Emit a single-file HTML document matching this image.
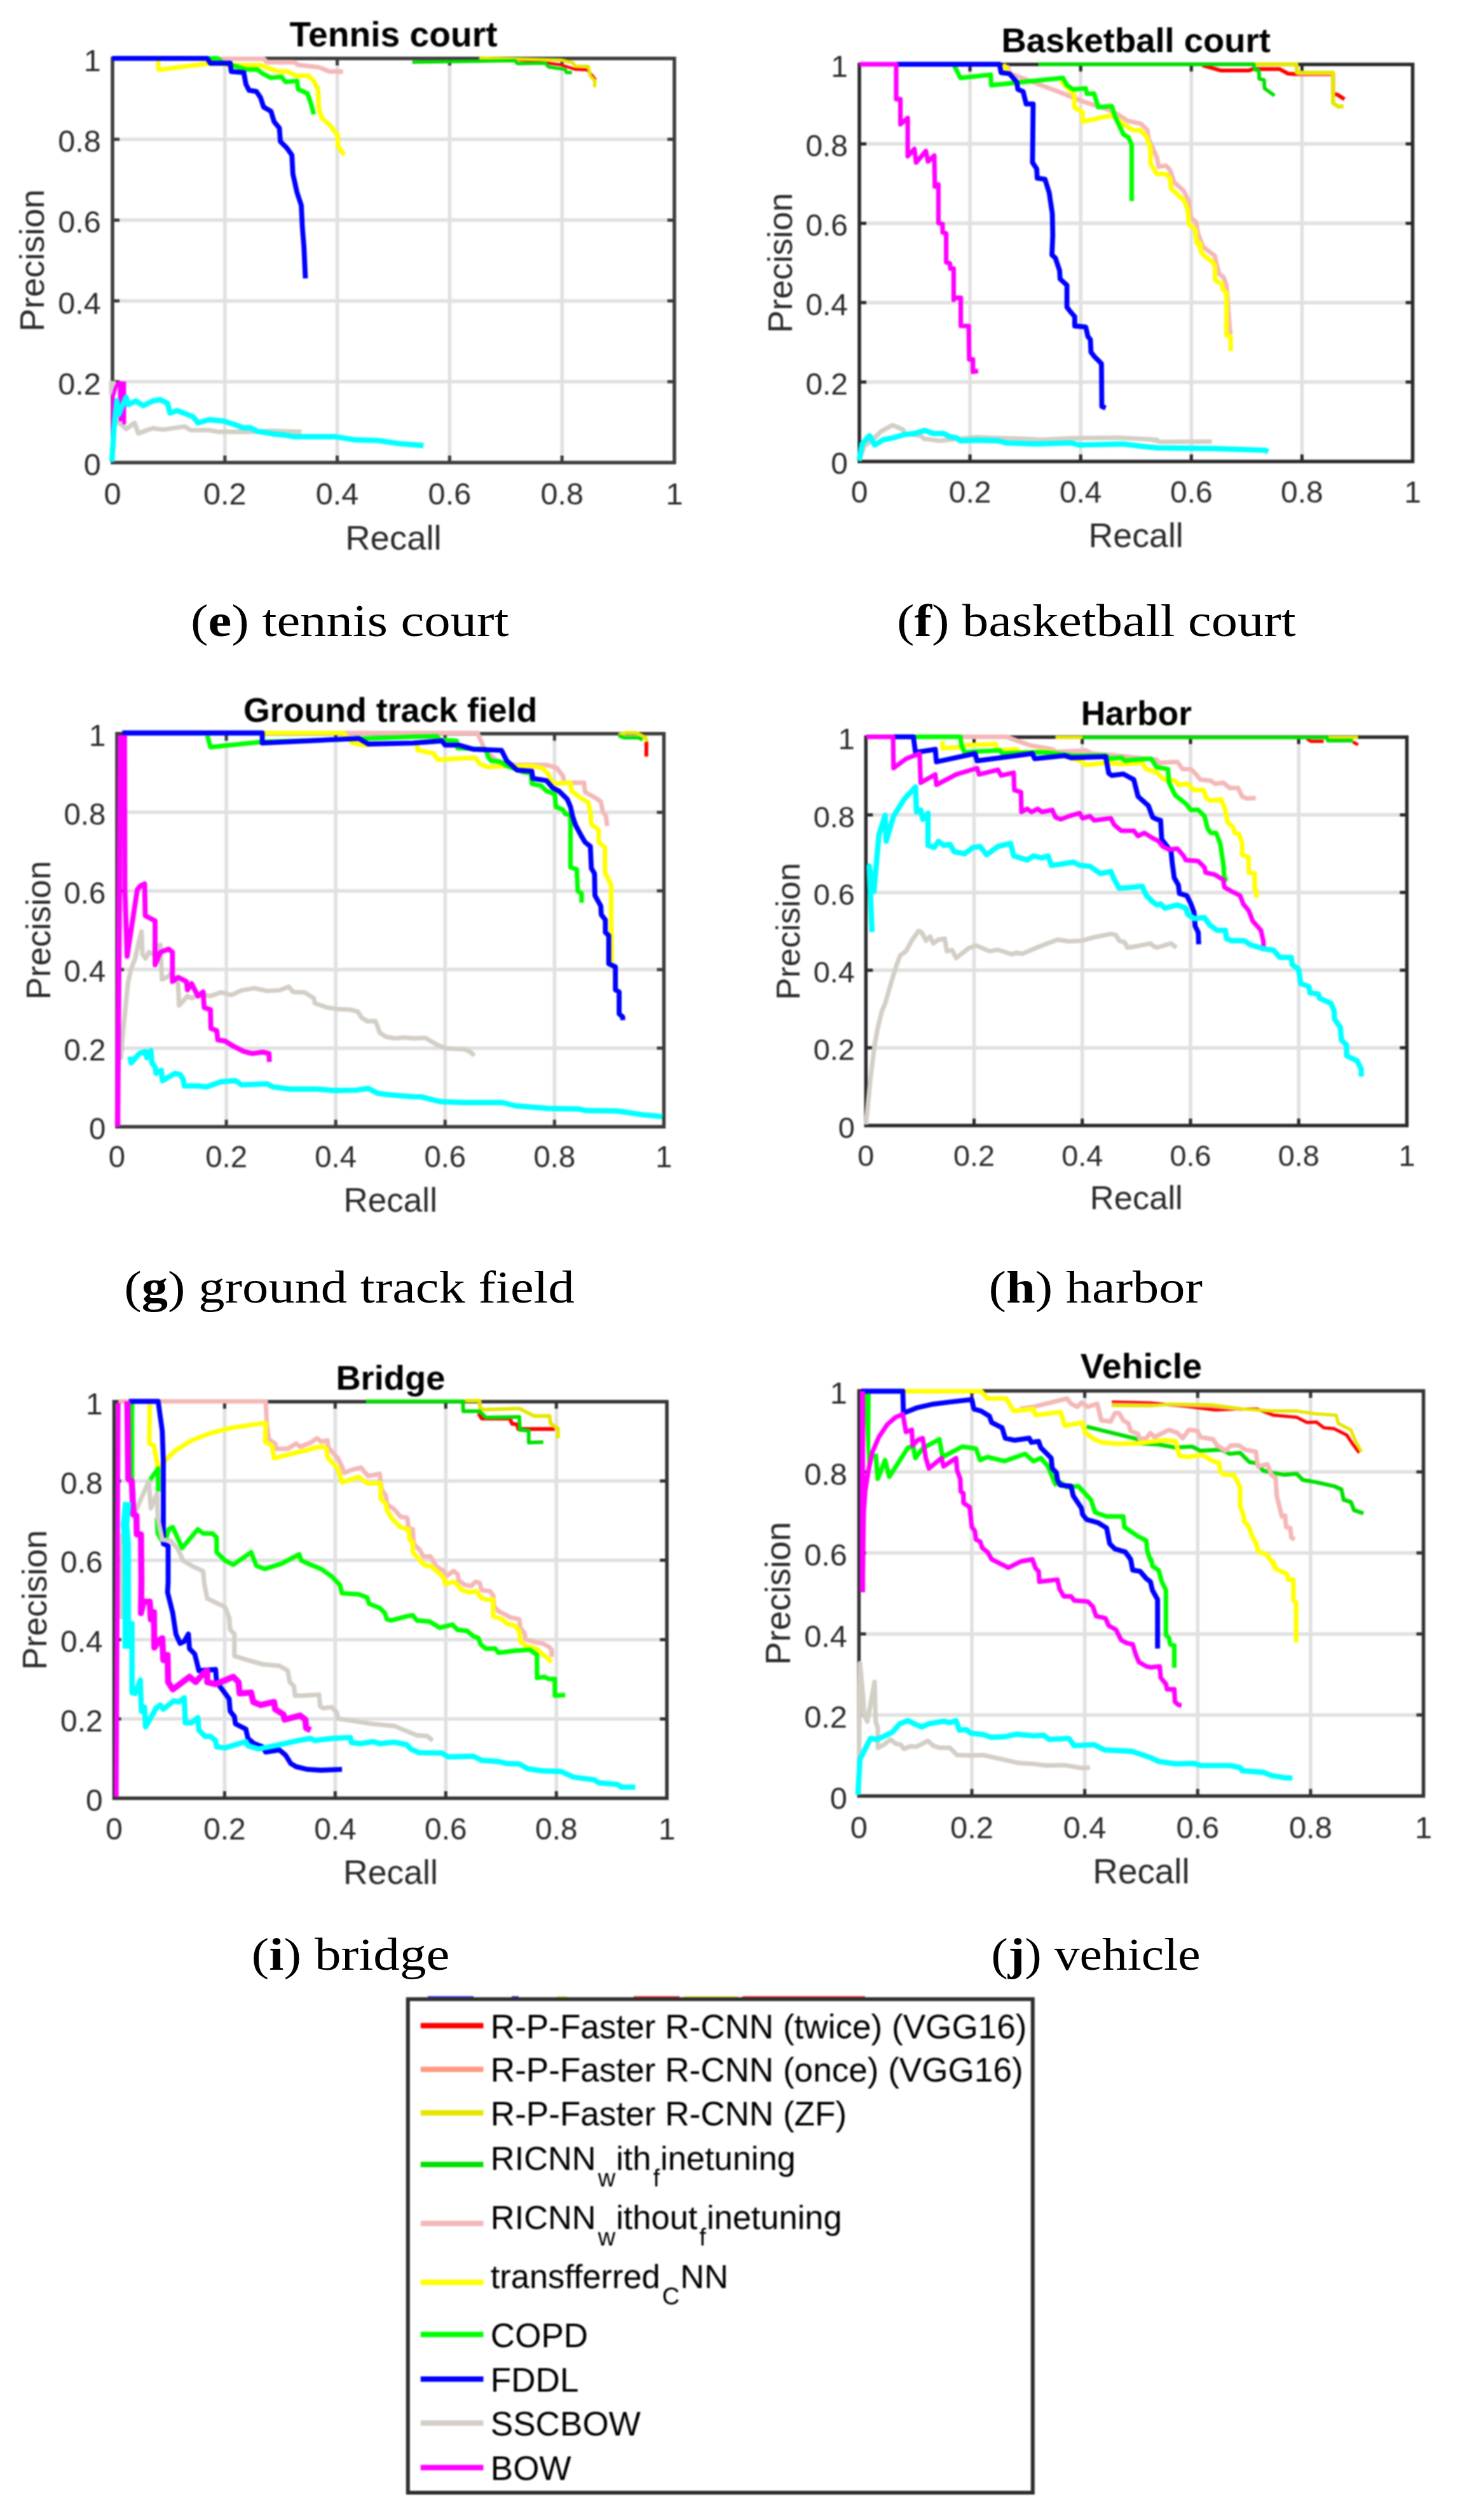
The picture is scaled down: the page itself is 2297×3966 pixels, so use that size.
<!DOCTYPE html>
<html lang="en">
<head>
<meta charset="utf-8">
<title>Precision-recall curves</title>
<style>
html,body{margin:0;padding:0;background:#fff;}
body{width:2297px;height:3966px;overflow:hidden;position:relative;}
svg{display:block;position:absolute;left:0;top:0;font-family:'Liberation Sans', Arial, sans-serif;}
#plots{filter:blur(0.9px);}
.sub{font-size:38px;}
</style>
</head>
<body>
<svg id="plots" width="2297" height="3966" viewBox="0 0 2297 3966">
<rect width="2297" height="3966" fill="#fff"/>
<g>
<path d="M353.8 92 V728 M177 600.8 H1061 M530.6 92 V728 M177 473.6 H1061 M707.4 92 V728 M177 346.4 H1061 M884.2 92 V728 M177 219.2 H1061" stroke="#e1e1e1" stroke-width="5.6" fill="none"/>
<path d="M353.8 728 v-11 M353.8 92 v11 M177 600.8 h11 M1061 600.8 h-11 M530.6 728 v-11 M530.6 92 v11 M177 473.6 h11 M1061 473.6 h-11 M707.4 728 v-11 M707.4 92 v11 M177 346.4 h11 M1061 346.4 h-11 M884.2 728 v-11 M884.2 92 v11 M177 219.2 h11 M1061 219.2 h-11" stroke="#3c3c3c" stroke-width="5" fill="none"/>
<rect x="177" y="92" width="884" height="636" fill="none" stroke="#3c3c3c" stroke-width="5.5"/>
<path d="M810.4 93.5 L863 99.5 L882.7 102.1 L905.8 109.3 L923.8 110 L932.1 119.2 L937 125.8" stroke="#ff0000" stroke-width="4.5" fill="none" stroke-linejoin="round" stroke-linecap="butt"/>
<path d="M753.9 91.2 L810.4 92.9 L882.7 94.5 L900.8 98.8 L905.8 104.4 L925.5 104.4 L928.8 119.2 L936 127.4 L935.3 137.3" stroke="#e6e600" stroke-width="5.2" fill="none" stroke-linejoin="round" stroke-linecap="butt"/>
<path d="M648.7 97.8 L810.4 95.5 L813.7 100.1 L858.1 99.5 L863 105.4 L889.3 109.3 L891 114.2 L899.8 114.2" stroke="#00e000" stroke-width="5.2" fill="none" stroke-linejoin="round" stroke-linecap="butt"/>
<path d="M344.1 92.5 L414.8 92.5 L419.7 97.8 L462.5 97.8 L469 102.1 L488.8 104.4 L501.9 106 L518.4 112.6 L539.7 112.6" stroke="#f5b8b8" stroke-width="7.2" fill="none" stroke-linejoin="round" stroke-linecap="butt"/>
<path d="M248.8 94.5 L249.4 109.3 L255.3 109.3 L326 100.1 L344.1 100.1 L367.1 102.7 L409.9 102.7 L423 107.7 L439.5 112.6 L452.6 112.6 L465.8 119.2 L485.5 119.2 L493.7 127.4 L500.3 142.2 L501.9 171.8 L506.8 186.6 L518.4 196.4 L531.5 212.9 L531.5 229.3 L541.4 244.1" stroke="#ffff00" stroke-width="7.2" fill="none" stroke-linejoin="round" stroke-linecap="butt"/>
<path d="M326 91.9 L342.5 91.9 L350.7 98.8 L365.5 102.7 L386.8 109.3 L404.9 109.3 L413.2 115.9 L426.3 122.5 L442.7 120.8 L449.3 129 L467.4 127.4 L469 140.5 L483.8 147.1 L488.8 161.9 L493.7 180" stroke="#00ff00" stroke-width="7.2" fill="none" stroke-linejoin="round" stroke-linecap="butt"/>
<path d="M176.4 91.9 L326 91.9 L331 99.5 L362.2 99.5 L363.8 112.6 L383.6 114.2 L386.8 132.3 L391.8 142.2 L403.3 143.8 L409.9 153.7 L414.8 168.5 L426.3 175.1 L431.2 191.5 L439.5 201.4 L441.1 222.7 L451 232.6 L459.2 244.1 L460.8 273.7 L467.4 303.3 L474 323 L475.6 355.9 L478.2 388.8 L480.5 438.1" stroke="#0000ff" stroke-width="7.8" fill="none" stroke-linejoin="round" stroke-linecap="butt"/>
<path d="M176.9 599.5 L176.9 621.4" stroke="#d3cfc6" stroke-width="10.8" fill="none" stroke-linejoin="round" stroke-linecap="butt"/>
<path d="M183.8 663.6 L192.6 669.3 L198.4 675.1 L211.8 665.5 L217.5 682 L240.5 673.9 L255.9 676.2 L290.4 671.2 L300 677 L328.8 677 L344.1 679.7 L390.1 679.7 L428.5 678.1 L474.5 679.7" stroke="#d3cfc6" stroke-width="7.2" fill="none" stroke-linejoin="round" stroke-linecap="butt"/>
<path d="M176.5 726.8 L178 623.3 L182.2 609.1 L186.8 601.4" stroke="#ff00ff" stroke-width="5.4" fill="none" stroke-linejoin="round" stroke-linecap="butt"/>
<path d="M185.3 599.5 L198.4 600.7 L198.4 667.4 L193 668.2 L192.2 663.6 L186.5 662.8Z" fill="#ff00ff" stroke="none"/>
<path d="M176.1 726.8 L179.2 675.1 L183.8 631 L186.8 652.1 L198.4 625.2 L202.2 636.7 L213.7 631 L225.2 638.6 L240.5 631 L252.1 629 L263.6 634.8 L267.4 650.1 L278.9 646.3 L294.2 652.1 L303.8 655.9 L311.5 665.5 L328.8 660.5 L351.8 662.8 L367.1 667.4 L382.5 673.2 L394 673.2 L405.5 678.9 L428.5 682.7 L447.7 684.7 L463 687.3 L528.2 687.3 L558.9 692.3 L593.4 693.1 L627.9 698.1 L666.3 701.2" stroke="#00ffff" stroke-width="8.4" fill="none" stroke-linejoin="round" stroke-linecap="butt"/>
<text x="177" y="793.7" font-size="48.6" text-anchor="middle" fill="#2c2c2c">0</text>
<text x="158.7" y="748" font-size="48.6" text-anchor="end" fill="#2c2c2c">0</text>
<text x="353.8" y="793.7" font-size="48.6" text-anchor="middle" fill="#2c2c2c">0.2</text>
<text x="158.7" y="620.8" font-size="48.6" text-anchor="end" fill="#2c2c2c">0.2</text>
<text x="530.6" y="793.7" font-size="48.6" text-anchor="middle" fill="#2c2c2c">0.4</text>
<text x="158.7" y="493.6" font-size="48.6" text-anchor="end" fill="#2c2c2c">0.4</text>
<text x="707.4" y="793.7" font-size="48.6" text-anchor="middle" fill="#2c2c2c">0.6</text>
<text x="158.7" y="366.4" font-size="48.6" text-anchor="end" fill="#2c2c2c">0.6</text>
<text x="884.2" y="793.7" font-size="48.6" text-anchor="middle" fill="#2c2c2c">0.8</text>
<text x="158.7" y="239.2" font-size="48.6" text-anchor="end" fill="#2c2c2c">0.8</text>
<text x="1061" y="793.7" font-size="48.6" text-anchor="middle" fill="#2c2c2c">1</text>
<text x="158.7" y="112" font-size="48.6" text-anchor="end" fill="#2c2c2c">1</text>
<text x="619" y="864.8" font-size="54.5" text-anchor="middle" fill="#2c2c2c">Recall</text>
<text transform="translate(69 410) rotate(-90)" font-size="54.5" text-anchor="middle" fill="#2c2c2c">Precision</text>
<text x="619" y="72.5" font-size="55.2" font-weight="bold" text-anchor="middle" fill="#000">Tennis court</text>
</g>
<g>
<path d="M1526.1 101.4 V726.3 M1352 601.3 H2222.5 M1700.2 101.4 V726.3 M1352 476.3 H2222.5 M1874.3 101.4 V726.3 M1352 351.4 H2222.5 M2048.4 101.4 V726.3 M1352 226.4 H2222.5" stroke="#e1e1e1" stroke-width="5.6" fill="none"/>
<path d="M1526.1 726.3 v-11 M1526.1 101.4 v11 M1352 601.3 h11 M2222.5 601.3 h-11 M1700.2 726.3 v-11 M1700.2 101.4 v11 M1352 476.3 h11 M2222.5 476.3 h-11 M1874.3 726.3 v-11 M1874.3 101.4 v11 M1352 351.4 h11 M2222.5 351.4 h-11 M2048.4 726.3 v-11 M2048.4 101.4 v11 M1352 226.4 h11 M2222.5 226.4 h-11" stroke="#2a2a2a" stroke-width="5" fill="none"/>
<rect x="1352" y="101.4" width="870.5" height="624.9" fill="none" stroke="#2a2a2a" stroke-width="5.5"/>
<path d="M1891.8 102.9 L1921.4 111.1 L1964.1 111.1 L1970.7 108.8 L2013.4 108.8 L2026.6 116 L2039.7 116.7 L2097.3 116.7 L2097.3 147.3 L2103.8 148.9 L2115.3 156.1" stroke="#ff0000" stroke-width="6" fill="none" stroke-linejoin="round" stroke-linecap="butt"/>
<path d="M2041.4 116.7 L2095.6 116.7" stroke="#ff9a80" stroke-width="4" fill="none" stroke-linejoin="round" stroke-linecap="butt"/>
<path d="M1974 101.2 L2039.7 101.2 L2040.4 114.4 L2097.3 114.4 L2097.3 162.1 L2105.5 168 L2113.7 167" stroke="#e6e600" stroke-width="6.3" fill="none" stroke-linejoin="round" stroke-linecap="butt"/>
<path d="M1633.6 101.2 L1820 101.2 L1784.9 101.2 L1972.3 101.2 L1974 109.5 L1980.5 111.1 L1981.2 124.2 L1988.8 125.9 L1989.4 139 L2005.2 150.5" stroke="#00e000" stroke-width="5.8" fill="none" stroke-linejoin="round" stroke-linecap="butt"/>
<path d="M1583.3 102.9 L1589.9 116 L1668.8 145.6 L1701.6 158.8 L1751 175.2 L1774 190 L1795.3 194.9 L1805.2 204.8 L1806.8 217.9 L1820 247.5 L1822.7 262.3 L1834.2 260.7 L1840.8 267.3 L1847.4 287 L1862.2 300.1 L1870.4 316.6 L1873.7 342.9 L1881.9 349.5 L1885.2 369.2 L1893.4 389.9 L1890.1 386.4 L1911.5 402.9 L1913.2 412.7 L1918.1 430.8 L1924.7 435.8 L1929.6 448.9 L1934.5 514.7 L1936.2 526.2" stroke="#f5b8b8" stroke-width="7.2" fill="none" stroke-linejoin="round" stroke-linecap="butt"/>
<path d="M1578.4 101.2 L1588.2 116" stroke="#ffff00" stroke-width="7.2" fill="none" stroke-linejoin="round" stroke-linecap="butt"/>
<path d="M1668.8 127.5 L1672.1 130.8 L1690.1 148.9 L1690.1 168.6 L1703.3 176.8 L1703.3 191.6 L1747.7 181.8 L1754.2 185.1 L1769 196.6 L1782.2 204.8 L1793.7 204.8 L1803.6 214.7 L1810.1 234.4 L1810.1 257.4 L1820 273.8 L1834.2 273.8 L1840.8 280.4 L1842.5 296.8 L1862.2 314.9 L1868.8 329.7 L1870.4 352.7 L1880.3 361 L1881.9 375.8 L1888.5 389.9 L1882.6 381.5 L1888.5 383.2 L1889.2 396.3 L1896.7 404.5 L1906.6 411.1 L1911.5 419.3 L1911.5 440.7 L1923 447.3 L1923.7 455.5 L1929.6 460.4 L1929.6 527.8 L1936.2 529.5 L1936.2 552.5" stroke="#ffff00" stroke-width="7.2" fill="none" stroke-linejoin="round" stroke-linecap="butt"/>
<path d="M1501.1 102.9 L1511 122.6 L1558.6 117.7 L1559.6 134.1 L1672.1 122.6 L1678.6 134.1 L1688.5 140.7 L1708.2 139 L1709.9 147.3 L1721.4 147.3 L1727.9 168.6 L1749.3 167 L1754.2 183.4 L1767.4 211.4 L1775.6 216.3 L1780.5 227.8 L1780.5 316.6" stroke="#00ff00" stroke-width="7.2" fill="none" stroke-linejoin="round" stroke-linecap="butt"/>
<path d="M1410 101.2 L1572.4 101.2 L1575.1 114.4 L1588.2 116 L1599.7 129.2 L1601.4 140.7 L1609.6 144 L1614.5 163.7 L1625.4 163.7 L1624.4 255.8 L1631 265.6 L1631.9 280.4 L1644.1 282.1 L1650.7 303.4 L1655.6 336.3 L1656.3 370.2 L1655 401.2 L1660.5 406.2 L1667.1 425.9 L1667.8 439 L1678.6 448.9 L1678.6 483.4 L1683.6 490 L1690.8 498.2 L1690.8 513 L1708.2 514.7 L1711.5 529.5 L1715.5 534.4 L1716.4 554.1 L1721.4 560.7 L1732.9 572.2 L1733.5 639.6 L1739.5 642.2" stroke="#0000ff" stroke-width="7.8" fill="none" stroke-linejoin="round" stroke-linecap="butt"/>
<path d="M1351.5 725.1 L1359.7 702.1 L1376.2 688.9 L1386 679 L1404.1 669.2 L1420.5 675.8 L1423.8 682.3 L1448.5 685.6 L1453.4 690.5 L1478.1 693.8 L1507.7 690.5 L1537.3 688.2 L1576.7 689.6 L1612.9 690.5 L1635.9 692.2 L1688.5 689.6 L1760.8 688.9 L1820 692.2 L1812.9 692.2 L1826 695.5 L1906.6 694.8" stroke="#d3cfc6" stroke-width="7.2" fill="none" stroke-linejoin="round" stroke-linecap="butt"/>
<path d="M1352.5 101.2 L1410 101.2 L1410 156.1 L1416.6 156.1 L1416.6 195.6 L1428.1 185.7 L1428.1 245.9 L1438.6 234.4 L1441.3 255.8 L1456.7 237.7 L1460 254.1 L1469.9 244.9 L1470.8 293.6 L1476.4 290.3 L1476.4 351.1 L1483 352.7 L1483 365.9 L1488.6 367.5 L1488.6 370 L1488.6 412.7 L1494.5 414.4 L1495.2 422.6 L1500.4 422.6 L1500.4 471.9 L1502.7 468.6 L1511.6 468.6 L1511.6 513 L1524.1 513 L1524.8 565.6 L1530.7 565.6 L1530.7 585.3 L1538.9 583.7" stroke="#ff00ff" stroke-width="7.2" fill="none" stroke-linejoin="round" stroke-linecap="butt"/>
<path d="M1351.5 725.1 L1356.4 698.8 L1367.9 685.6 L1376.2 700.4 L1389.3 692.2 L1405.8 688.9 L1422.2 684 L1438.6 682.3 L1455.1 677.4 L1468.2 682.3 L1484.7 682.3 L1494.5 687.3 L1504.4 688.9 L1511 693.8 L1537.3 692.8 L1570.1 693.8 L1583.3 697.1 L1629.3 698.8 L1685.2 697.1 L1698.4 700.4 L1767.4 698.8 L1793.7 702.1 L1820 704.7 L1911.5 706 L1990.4 708.6 L1995.3 710.9" stroke="#00ffff" stroke-width="8.4" fill="none" stroke-linejoin="round" stroke-linecap="butt"/>
<text x="1352" y="791" font-size="47.9" text-anchor="middle" fill="#2c2c2c">0</text>
<text x="1334" y="746" font-size="47.9" text-anchor="end" fill="#2c2c2c">0</text>
<text x="1526.1" y="791" font-size="47.9" text-anchor="middle" fill="#2c2c2c">0.2</text>
<text x="1334" y="621" font-size="47.9" text-anchor="end" fill="#2c2c2c">0.2</text>
<text x="1700.2" y="791" font-size="47.9" text-anchor="middle" fill="#2c2c2c">0.4</text>
<text x="1334" y="496" font-size="47.9" text-anchor="end" fill="#2c2c2c">0.4</text>
<text x="1874.3" y="791" font-size="47.9" text-anchor="middle" fill="#2c2c2c">0.6</text>
<text x="1334" y="371.1" font-size="47.9" text-anchor="end" fill="#2c2c2c">0.6</text>
<text x="2048.4" y="791" font-size="47.9" text-anchor="middle" fill="#2c2c2c">0.8</text>
<text x="1334" y="246.1" font-size="47.9" text-anchor="end" fill="#2c2c2c">0.8</text>
<text x="2222.5" y="791" font-size="47.9" text-anchor="middle" fill="#2c2c2c">1</text>
<text x="1334" y="121.1" font-size="47.9" text-anchor="end" fill="#2c2c2c">1</text>
<text x="1787.2" y="861" font-size="53.7" text-anchor="middle" fill="#2c2c2c">Recall</text>
<text transform="translate(1245.6 413.8) rotate(-90)" font-size="53.7" text-anchor="middle" fill="#2c2c2c">Precision</text>
<text x="1787.2" y="82.2" font-size="54.4" font-weight="bold" text-anchor="middle" fill="#000">Basketball court</text>
</g>
<g>
<path d="M356.1 1154.7 V1773.3 M184 1649.6 H1044.5 M528.2 1154.7 V1773.3 M184 1525.9 H1044.5 M700.3 1154.7 V1773.3 M184 1402.1 H1044.5 M872.4 1154.7 V1773.3 M184 1278.4 H1044.5" stroke="#e1e1e1" stroke-width="5.6" fill="none"/>
<path d="M356.1 1773.3 v-11 M356.1 1154.7 v11 M184 1649.6 h11 M1044.5 1649.6 h-11 M528.2 1773.3 v-11 M528.2 1154.7 v11 M184 1525.9 h11 M1044.5 1525.9 h-11 M700.3 1773.3 v-11 M700.3 1154.7 v11 M184 1402.1 h11 M1044.5 1402.1 h-11 M872.4 1773.3 v-11 M872.4 1154.7 v11 M184 1278.4 h11 M1044.5 1278.4 h-11" stroke="#3c3c3c" stroke-width="5" fill="none"/>
<rect x="184" y="1154.7" width="860.5" height="618.6" fill="none" stroke="#3c3c3c" stroke-width="5.5"/>
<path d="M1016.9 1166 L1016.9 1190.7" stroke="#ff0000" stroke-width="6" fill="none" stroke-linejoin="round" stroke-linecap="butt"/>
<path d="M973.2 1156.2 L984.7 1153.5 L1001.1 1153.5 L1015.9 1161.1 L1016.9 1167.7" stroke="#e6e600" stroke-width="5.8" fill="none" stroke-linejoin="round" stroke-linecap="butt"/>
<path d="M973.2 1157.8 L981.4 1161.1 L1004.4 1161.1 L1011 1164.4" stroke="#00e000" stroke-width="5.2" fill="none" stroke-linejoin="round" stroke-linecap="butt"/>
<path d="M541.5 1153.5 L650 1153.5 L751.2 1153.5 L761.1 1175.9 L767.7 1185.8 L784.1 1198.9 L810.4 1203.8 L859.7 1203.8 L876.2 1208.8 L886 1221.9 L887.7 1231.8 L918.9 1231.8 L920.5 1246.6 L935.3 1254.8 L945.2 1261.4 L948.5 1277.8 L953.4 1284.4 L955.1 1300.2" stroke="#f5b8b8" stroke-width="7.2" fill="none" stroke-linejoin="round" stroke-linecap="butt"/>
<path d="M414.9 1153.5 L539.9 1153.5 L554.7 1169.3 L571.1 1172.6 L581 1172.6" stroke="#ffff00" stroke-width="7.2" fill="none" stroke-linejoin="round" stroke-linecap="butt"/>
<path d="M655.9 1172.6 L657.5 1180.8 L682.2 1185.8 L688.8 1195.6 L747.9 1192.3 L754.5 1202.2 L767.7 1207.1 L797.3 1205.5 L836.7 1205.5 L853.2 1208.8 L863 1218.6 L869.6 1233.4 L897.5 1231.8 L899.2 1244.9 L912.3 1254.8 L925.5 1263 L928.8 1277.8 L930.4 1297.5 L941.9 1305.8 L941.9 1325.5 L951.8 1333.7 L951.8 1373.2 L961.6 1392.9 L961.6 1439.9 L962.3 1515.1" stroke="#ffff00" stroke-width="7.2" fill="none" stroke-linejoin="round" stroke-linecap="butt"/>
<path d="M326.2 1157.8 L331.1 1175.9 L411.6 1167.7 L569.5 1162.7 L650 1159.5 L687.1 1158.8 L692.1 1164.4 L718.4 1166 L720 1177.5 L764.4 1179.2 L767.7 1190.7 L772.6 1197.3 L787.4 1198.9 L797.3 1205.5 L823.6 1215.3 L835.1 1217 L836.7 1233.4 L851.5 1236.7 L859.7 1244.9 L872.9 1249.9 L874.5 1269.6 L886 1274.5 L889.3 1281.1 L897.5 1282.7 L897.5 1364.9 L907.4 1368.2 L909 1402.7 L915 1406 L915 1420.8" stroke="#00ff00" stroke-width="7.2" fill="none" stroke-linejoin="round" stroke-linecap="butt"/>
<path d="M192.4 1153.5 L412.6 1153.5 L412.6 1169.3 L564.5 1162.1 L579.3 1171 L650 1169.3 L695.3 1166 L700.3 1172.6 L721.6 1172.6 L744.7 1179.2 L789 1180.8 L797.3 1197.3 L813.7 1212.1 L836.7 1213.7 L838.4 1225.2 L859.7 1228.5 L869.6 1240 L879.5 1244.9 L892.6 1258.1 L897.5 1269.6 L900.8 1284.4 L905.8 1299.2 L915.6 1317.3 L920.5 1325.5 L928.8 1332.1 L930.4 1366.6 L935.3 1374.8 L936 1409.3 L945.2 1425.8 L945.9 1439.5 L952.4 1447.7 L952.4 1467.4 L957.7 1472.3 L957.7 1516.7 L968.2 1521.6 L968.2 1557.8 L974.1 1561.1 L974.1 1595.6 L979.7 1600.5 L979.7 1605.5" stroke="#0000ff" stroke-width="7.8" fill="none" stroke-linejoin="round" stroke-linecap="butt"/>
<path d="M189.7 1667.9 L193 1630.1 L201.2 1547.9 L206.2 1524.9 L212.7 1508.5 L217.7 1485.5 L222.6 1465.8 L224.2 1501.9 L229.2 1508.5 L234.1 1498.6 L240.7 1501.9 L244 1492.1 L252.2 1487.1 L254.8 1541.4 L265.3 1536.4 L268.6 1531.5 L280.1 1547.9 L281.8 1582.5 L294.9 1567.7 L301.5 1571 L314.7 1564.4 L331.1 1567.7 L347.5 1561.8 L364 1566 L380.4 1558.5 L400.1 1555.2 L419.9 1559.5 L439.6 1558.5 L454.4 1552.9 L461 1561.1 L479 1561.8 L493.8 1571 L495.5 1579.2 L515.2 1585.8 L531.6 1588.1 L551.4 1589 L562.9 1592.3 L569.5 1602.2 L577.7 1607.1 L590.8 1607.1 L597.4 1625.2 L607.3 1631.8 L620.4 1634.1 L636.8 1632.8 L650 1634.1 L652.6 1634.1 L669 1633.4 L688.8 1644.9 L701.9 1649.9 L731.5 1651.5 L741.4 1656.4 L746.3 1661.4" stroke="#d3cfc6" stroke-width="7.2" fill="none" stroke-linejoin="round" stroke-linecap="butt"/>
<path d="M185 1773 L189.5 1157" stroke="#ff00ff" stroke-width="8.4" fill="none" stroke-linejoin="round" stroke-linecap="butt"/>
<path d="M196 1157 L196.5 1400 L200 1505 L216 1400 L221 1394 L227.5 1391 L228.5 1441.1 L244 1449.3 L244 1518.4 L252.2 1498.6 L265.3 1493.7 L271.3 1498.6 L271.3 1544.7 L280.1 1538.1 L293.3 1544.7 L294.9 1557.8 L301.5 1547.9 L311.4 1567.7 L319.6 1561.1 L321.2 1585.8 L331.1 1589 L331.8 1618.6 L341 1621.9 L342.6 1636.7 L354.1 1638.4 L367.3 1646.6 L383.7 1654.8 L396.8 1658.1 L413.3 1655.8 L423.2 1658.1 L423.8 1671.2" stroke="#ff00ff" stroke-width="7.8" fill="none" stroke-linejoin="round" stroke-linecap="butt"/>
<path d="M204.5 1663 L206.2 1672.9 L219.3 1658.1 L229.2 1654.8 L230.8 1664.7 L237.4 1653.2 L239 1672.9 L244 1679.5 L245.6 1689.3 L253.8 1684.4 L255.5 1700.8 L275.2 1689.3 L283.4 1691 L288.4 1699.2 L290 1709 L311.4 1709 L324.5 1710.7 L347.5 1702.5 L370.5 1700.8 L380.4 1707.4 L419.9 1705.8 L429.7 1710.7 L456 1714 L498.8 1714 L525.1 1716.3 L561.2 1715.6 L579.3 1713 L594.1 1720.5 L610.5 1722.8 L650 1726.1 L662.5 1726.1 L692.1 1733.7 L731.5 1735.3 L790.7 1735.3 L810.4 1740.3 L863 1744.5 L909 1745.2 L922.2 1747.8 L971.5 1748.5 L1011 1754.4 L1042.2 1757.4" stroke="#00ffff" stroke-width="8.4" fill="none" stroke-linejoin="round" stroke-linecap="butt"/>
<text x="184" y="1837.3" font-size="47.3" text-anchor="middle" fill="#2c2c2c">0</text>
<text x="166.2" y="1792.8" font-size="47.3" text-anchor="end" fill="#2c2c2c">0</text>
<text x="356.1" y="1837.3" font-size="47.3" text-anchor="middle" fill="#2c2c2c">0.2</text>
<text x="166.2" y="1669" font-size="47.3" text-anchor="end" fill="#2c2c2c">0.2</text>
<text x="528.2" y="1837.3" font-size="47.3" text-anchor="middle" fill="#2c2c2c">0.4</text>
<text x="166.2" y="1545.3" font-size="47.3" text-anchor="end" fill="#2c2c2c">0.4</text>
<text x="700.3" y="1837.3" font-size="47.3" text-anchor="middle" fill="#2c2c2c">0.6</text>
<text x="166.2" y="1421.6" font-size="47.3" text-anchor="end" fill="#2c2c2c">0.6</text>
<text x="872.4" y="1837.3" font-size="47.3" text-anchor="middle" fill="#2c2c2c">0.8</text>
<text x="166.2" y="1297.9" font-size="47.3" text-anchor="end" fill="#2c2c2c">0.8</text>
<text x="1044.5" y="1837.3" font-size="47.3" text-anchor="middle" fill="#2c2c2c">1</text>
<text x="166.2" y="1174.2" font-size="47.3" text-anchor="end" fill="#2c2c2c">1</text>
<text x="614.2" y="1906.5" font-size="53.1" text-anchor="middle" fill="#2c2c2c">Recall</text>
<text transform="translate(78.9 1464) rotate(-90)" font-size="53.1" text-anchor="middle" fill="#2c2c2c">Precision</text>
<text x="614.2" y="1135.7" font-size="53.7" font-weight="bold" text-anchor="middle" fill="#000">Ground track field</text>
</g>
<g>
<path d="M1532.5 1160.1 V1771.4 M1362.3 1649.1 H2213.4 M1702.7 1160.1 V1771.4 M1362.3 1526.9 H2213.4 M1873 1160.1 V1771.4 M1362.3 1404.6 H2213.4 M2043.2 1160.1 V1771.4 M1362.3 1282.4 H2213.4" stroke="#e1e1e1" stroke-width="5.6" fill="none"/>
<path d="M1532.5 1771.4 v-11 M1532.5 1160.1 v11 M1362.3 1649.1 h11 M2213.4 1649.1 h-11 M1702.7 1771.4 v-11 M1702.7 1160.1 v11 M1362.3 1526.9 h11 M2213.4 1526.9 h-11 M1873 1771.4 v-11 M1873 1160.1 v11 M1362.3 1404.6 h11 M2213.4 1404.6 h-11 M2043.2 1771.4 v-11 M2043.2 1160.1 v11 M1362.3 1282.4 h11 M2213.4 1282.4 h-11" stroke="#2a2a2a" stroke-width="5" fill="none"/>
<rect x="1362.3" y="1160.1" width="851.1" height="611.3" fill="none" stroke="#2a2a2a" stroke-width="5.5"/>
<path d="M2056.2 1162.9 L2062.7 1166.8 L2082.5 1166.8" stroke="#ff0000" stroke-width="5" fill="none" stroke-linejoin="round" stroke-linecap="butt"/>
<path d="M2128.5 1167.8 L2136.7 1172.1" stroke="#ff0000" stroke-width="5" fill="none" stroke-linejoin="round" stroke-linecap="butt"/>
<path d="M1660.5 1160.6 L1703.3 1160.6" stroke="#e6e600" stroke-width="5.2" fill="none" stroke-linejoin="round" stroke-linecap="butt"/>
<path d="M2087.4 1160.6 L2136.7 1160.6" stroke="#e6e600" stroke-width="5.2" fill="none" stroke-linejoin="round" stroke-linecap="butt"/>
<path d="M1703.3 1160.6 L1820 1160.6 L2087.4 1160.6 L2089 1165.5 L2128.5 1165.5" stroke="#00e000" stroke-width="5.8" fill="none" stroke-linejoin="round" stroke-linecap="butt"/>
<path d="M1514.2 1159.6 L1583.3 1159.6 L1619.5 1172.7 L1655.6 1179.3 L1662.2 1183.3 L1708.2 1181 L1718.1 1185.9 L1739.5 1187.5 L1820 1195.8 L1822.7 1200.7 L1852.3 1199 L1860.5 1210.5 L1873.7 1210.5 L1881.9 1218.8 L1888.5 1227 L1904.9 1228.6 L1911.5 1233.6 L1924.7 1231.9 L1934.5 1240.1 L1947.7 1240.1 L1954.2 1253.3 L1960.8 1256.6 L1975.6 1255.9" stroke="#f5b8b8" stroke-width="7.2" fill="none" stroke-linejoin="round" stroke-linecap="butt"/>
<path d="M1483 1166.2 L1483 1177.7 L1511 1176 L1520.8 1172.7 L1566.8 1171.1 L1568.5 1181 L1599.7 1179.3 L1603 1184.2 L1644.1 1182.6 L1655.6 1184.2 L1700 1197.4 L1708.2 1204 L1737.8 1200.7 L1767.4 1202.3 L1797 1200.7 L1803.6 1210.5 L1820 1215.5 L1829.3 1225.3 L1839.2 1228.6 L1849 1228.6 L1854 1235.2 L1868.8 1233.6 L1878.6 1243.4 L1893.4 1243.4 L1898.4 1256.6 L1904.9 1259.9 L1921.4 1258.2 L1927.9 1274.7 L1931.2 1294.4 L1939.5 1301 L1942.7 1310.8 L1949.3 1312.5 L1954.2 1327.3 L1954.2 1345.3 L1964.1 1348.6 L1964.8 1373.3 L1974 1374.9 L1974 1399.6 L1976.6 1401.2 L1976.6 1412.7" stroke="#ffff00" stroke-width="7.2" fill="none" stroke-linejoin="round" stroke-linecap="butt"/>
<path d="M1437 1159.6 L1511 1159.6 L1512.6 1172.7 L1517.5 1184.2 L1537.3 1182.6 L1573.4 1181 L1576.7 1185.9 L1626 1184.2 L1645.8 1184.2 L1675.3 1187.5 L1688.5 1189.2 L1739.5 1189.2 L1746 1194.1 L1764.1 1192.5 L1770.7 1197.4 L1782.2 1195.8 L1810.1 1194.1 L1811.2 1194.1 L1819.5 1207.3 L1837.5 1210.5 L1839.2 1231.9 L1849 1251.6 L1865.5 1264.8 L1873.7 1274.7 L1885.2 1274.7 L1895.1 1284.5 L1900 1304.2 L1904.9 1310.8 L1913.2 1310.8 L1919.7 1327.3 L1924.7 1360.1 L1926.3 1383.2 L1931.2 1384.8" stroke="#00ff00" stroke-width="7.2" fill="none" stroke-linejoin="round" stroke-linecap="butt"/>
<path d="M1405.1 1159.6 L1437 1159.6 L1440.3 1184.2 L1471.5 1179.3 L1473.2 1199 L1534 1185.9 L1537.3 1197.4 L1624.4 1185.9 L1627.7 1194.1 L1675.3 1189.2 L1685.2 1192.5 L1739.5 1190.8 L1744.4 1217.1 L1749.3 1220.4 L1767.4 1218.1 L1783.8 1227 L1790.4 1253.3 L1806.8 1268.1 L1813.4 1286.2 L1820 1289.5 L1826 1291.1 L1827.7 1320.7 L1832.6 1327.3 L1842.5 1340.4 L1844.1 1356.8 L1847.4 1381.5 L1854 1393 L1855.6 1406.2 L1867.1 1409.5 L1873.7 1422.6 L1878.6 1435.8 L1880.3 1457.5 L1885.2 1467.4 L1885.9 1486.1" stroke="#0000ff" stroke-width="7.8" fill="none" stroke-linejoin="round" stroke-linecap="butt"/>
<path d="M1362.4 1769.9 L1369.6 1695.9 L1376.2 1643.3 L1381.1 1617 L1387.7 1590.7 L1392.6 1579.2 L1402.5 1544.7 L1410.7 1518.4 L1416.3 1503.6 L1425.5 1497 L1435.3 1478.9 L1445.2 1465.1 L1450.1 1467.4 L1456.7 1480.5 L1463.3 1474 L1468.2 1484.8 L1476.4 1478.9 L1486.3 1477.3 L1489.6 1497 L1497.8 1495.3 L1504.4 1507.8 L1524.1 1492.1 L1535.6 1488.1 L1557 1497 L1570.1 1494.7 L1591.5 1501.9 L1599.7 1499.3 L1607.9 1501.3 L1635.9 1489.4 L1663.8 1478.9 L1681.9 1481.5 L1701.6 1480.5 L1721.4 1475 L1747.7 1469.7 L1755.9 1471.7 L1760.8 1480.5 L1769 1482.8 L1774 1491.4 L1790.4 1488.8 L1810.1 1484.8 L1815.1 1489.4 L1820 1491.4 L1842.5 1484.8 L1850.7 1491.4" stroke="#d3cfc6" stroke-width="7.2" fill="none" stroke-linejoin="round" stroke-linecap="butt"/>
<path d="M1363 1159.6 L1405.1 1159.6 L1405.8 1208.9 L1425.5 1194.1 L1446.8 1185.9 L1448.5 1231.9 L1471.5 1218.8 L1473.2 1235.2 L1504.4 1218.8 L1537.3 1208.9 L1540.5 1218.8 L1570.1 1211.5 L1575.1 1220.4 L1594.8 1216.1 L1595.8 1243.4 L1606.3 1246.7 L1607 1277.9 L1616.2 1273 L1622.7 1277.9 L1632.6 1273 L1639.2 1277.9 L1655.6 1274.7 L1660.5 1286.2 L1668.8 1289.5 L1681.9 1284.5 L1698.4 1279.6 L1703.3 1287.8 L1714.8 1284.5 L1721.4 1291.1 L1747.7 1287.8 L1752.6 1297.7 L1764.1 1307.5 L1783.8 1307.5 L1790.4 1315.8 L1800.3 1310.8 L1813.4 1319 L1820 1322.3 L1822.7 1324 L1829.3 1332.2 L1839.2 1337.1 L1852.3 1335.5 L1862.2 1347 L1865.5 1353.6 L1885.2 1355.2 L1895.1 1365.1 L1896.7 1373.3 L1911.5 1376.6 L1924.7 1384.8 L1926.3 1396.3 L1937.8 1402.9 L1951 1409.5 L1955.9 1422.6 L1964.1 1432.5 L1965.8 1436.2 L1970.7 1449.3 L1983.8 1464.1 L1987.8 1482.2 L1987.8 1497" stroke="#ff00ff" stroke-width="7.2" fill="none" stroke-linejoin="round" stroke-linecap="butt"/>
<path d="M1372 1467 L1367.5 1363 L1375 1403 L1382.7 1314.1 L1392.6 1282.9 L1394.2 1324 L1405.8 1284.5 L1422.2 1258.2 L1440.3 1238.5 L1441.9 1277.9 L1448.5 1274.7 L1451.8 1289.5 L1460 1279.6 L1460 1330.5 L1469.9 1333.8 L1476.4 1324 L1484.7 1330.5 L1494.5 1328.9 L1501.1 1340.4 L1517.5 1343.7 L1530.7 1333.8 L1542.2 1332.2 L1552.1 1345.3 L1570.1 1332.2 L1589.9 1327.3 L1594.8 1347 L1616.2 1353.6 L1626 1347 L1639.2 1350.3 L1649 1347 L1654 1361.8 L1668.8 1360.1 L1688.5 1356.8 L1698.4 1361.8 L1714.8 1363.4 L1731.2 1374.9 L1747.7 1371.6 L1752.6 1383.2 L1760.8 1397.9 L1783.8 1396.3 L1797 1394.7 L1803.6 1409.5 L1813.4 1419.3 L1820 1424.2 L1826 1422.6 L1832.6 1429.2 L1852.3 1424.2 L1865.5 1429.2 L1868.8 1439 L1878.6 1445.6 L1895.1 1444 L1903.3 1455.9 L1914.8 1464.1 L1927.9 1464.1 L1929.6 1477.3 L1937.8 1480.5 L1957.5 1480.5 L1967.4 1487.1 L1990.4 1493.7 L2003.6 1495.3 L2013.4 1506.8 L2031.5 1506.8 L2033.2 1518.4 L2043 1524.9 L2046.3 1547.9 L2059.5 1552.9 L2061.1 1562.7 L2074.2 1564.4 L2075.9 1571 L2094 1579.2 L2098.9 1590.7 L2099.6 1603.8 L2108.8 1617 L2110.4 1636.7 L2118.6 1644.9 L2118.6 1661.4 L2135.1 1669.6 L2141.6 1682.7 L2141.6 1694.2" stroke="#00ffff" stroke-width="8.4" fill="none" stroke-linejoin="round" stroke-linecap="butt"/>
<text x="1362.3" y="1834.7" font-size="46.8" text-anchor="middle" fill="#2c2c2c">0</text>
<text x="1344.7" y="1790.7" font-size="46.8" text-anchor="end" fill="#2c2c2c">0</text>
<text x="1532.5" y="1834.7" font-size="46.8" text-anchor="middle" fill="#2c2c2c">0.2</text>
<text x="1344.7" y="1668.4" font-size="46.8" text-anchor="end" fill="#2c2c2c">0.2</text>
<text x="1702.7" y="1834.7" font-size="46.8" text-anchor="middle" fill="#2c2c2c">0.4</text>
<text x="1344.7" y="1546.1" font-size="46.8" text-anchor="end" fill="#2c2c2c">0.4</text>
<text x="1873" y="1834.7" font-size="46.8" text-anchor="middle" fill="#2c2c2c">0.6</text>
<text x="1344.7" y="1423.9" font-size="46.8" text-anchor="end" fill="#2c2c2c">0.6</text>
<text x="2043.2" y="1834.7" font-size="46.8" text-anchor="middle" fill="#2c2c2c">0.8</text>
<text x="1344.7" y="1301.6" font-size="46.8" text-anchor="end" fill="#2c2c2c">0.8</text>
<text x="2213.4" y="1834.7" font-size="46.8" text-anchor="middle" fill="#2c2c2c">1</text>
<text x="1344.7" y="1179.4" font-size="46.8" text-anchor="end" fill="#2c2c2c">1</text>
<text x="1787.8" y="1903.1" font-size="52.5" text-anchor="middle" fill="#2c2c2c">Recall</text>
<text transform="translate(1258.3 1465.8) rotate(-90)" font-size="52.5" text-anchor="middle" fill="#2c2c2c">Precision</text>
<text x="1787.8" y="1141.3" font-size="53.1" font-weight="bold" text-anchor="middle" fill="#000">Harbor</text>
</g>
<g>
<path d="M353.4 2206 V2830.1 M179.5 2705.3 H1049.2 M527.4 2206 V2830.1 M179.5 2580.5 H1049.2 M701.3 2206 V2830.1 M179.5 2455.6 H1049.2 M875.3 2206 V2830.1 M179.5 2330.8 H1049.2" stroke="#e1e1e1" stroke-width="5.6" fill="none"/>
<path d="M353.4 2830.1 v-11 M353.4 2206 v11 M179.5 2705.3 h11 M1049.2 2705.3 h-11 M527.4 2830.1 v-11 M527.4 2206 v11 M179.5 2580.5 h11 M1049.2 2580.5 h-11 M701.3 2830.1 v-11 M701.3 2206 v11 M179.5 2455.6 h11 M1049.2 2455.6 h-11 M875.3 2830.1 v-11 M875.3 2206 v11 M179.5 2330.8 h11 M1049.2 2330.8 h-11" stroke="#333333" stroke-width="5" fill="none"/>
<rect x="179.5" y="2206" width="869.7" height="624.1" fill="none" stroke="#333333" stroke-width="5.5"/>
<path d="M752.9 2224.2 L757.8 2232.5 L802.2 2232.5 L805.5 2240.7 L813.7 2241.7 L815.3 2248.9 L872.9 2248.9" stroke="#ff0000" stroke-width="6" fill="none" stroke-linejoin="round" stroke-linecap="butt"/>
<path d="M731.5 2204.5 L754.5 2204.5 L755.2 2216 L761.1 2218.7 L817 2216.7 L840 2228.5 L864.7 2228.5 L866.3 2240.7 L877.8 2248.2 L877.8 2263.7" stroke="#e6e600" stroke-width="5.8" fill="none" stroke-linejoin="round" stroke-linecap="butt"/>
<path d="M575.9 2205.5 L640 2205.5 L642.7 2205.5 L728.2 2205.5 L728.9 2221 L754.5 2221 L764.4 2230.8 L817 2229.8 L818 2250.5 L831.8 2251.5 L831.8 2270.3 L854.8 2269.6" stroke="#00e000" stroke-width="5.8" fill="none" stroke-linejoin="round" stroke-linecap="butt"/>
<path d="M186.3 2205.5 L418.1 2205.5 L419.7 2240.7 L423 2265.3 L432.9 2271.9 L434.5 2280.1 L452.6 2280.1 L465.8 2271.9 L472.3 2276.8 L488.8 2270.3 L498.6 2263.7 L505.2 2268.6 L515.1 2267 L516.7 2278.5 L531.5 2294.9 L538.1 2308.1 L541.4 2317.9 L554.5 2313 L567.7 2309.7 L579.2 2322.9 L597.3 2319.6 L600.5 2344.2 L607.1 2354.1 L608.8 2367.3 L620.3 2375.5 L630.1 2387 L640 2388.6 L641.1 2390.3 L642.7 2405.1 L649.3 2406.7 L651 2429.7 L660.8 2439.6 L665.8 2449.5 L677.3 2449.5 L687.1 2465.9 L698.6 2472.5 L701.9 2480.7 L713.4 2472.5 L720 2477.4 L721.6 2487.3 L731.5 2494.4 L741.4 2496 L747.9 2489.5 L754.5 2491.1 L757.8 2502.6 L771 2504.2 L775.9 2510.8 L777.5 2528.9 L784.1 2535.5 L797.3 2542.1 L802.2 2545.3 L817 2548.6 L818.6 2561.8 L825.2 2570 L826.8 2579.9 L843.3 2584.8 L853.2 2586.4 L863 2591.4 L867.9 2596.3 L867.9 2607.8" stroke="#f5b8b8" stroke-width="7.2" fill="none" stroke-linejoin="round" stroke-linecap="butt"/>
<path d="M235.6 2205.5 L235 2271.9 L242.2 2275.2 L248.1 2308.1 L255.3 2304.8 L260.3 2298.2 L275.1 2283.4 L301.4 2267 L331 2255.5 L363.8 2247.3 L396.7 2242.3 L418.1 2239.7 L417.1 2268.6 L427.9 2275.2 L431.2 2294.9 L506.8 2275.9 L513.4 2280.1 L515.1 2293.3 L531.5 2311.4 L538.1 2332.7 L564.4 2324.5 L577.5 2334.4 L598.9 2334.4 L598.9 2359 L607.1 2367.3 L608.8 2377.1 L617 2390.3 L630.1 2403.4 L640 2406.7 L642.7 2406.7 L644.4 2423.2 L649.3 2426.4 L649.3 2442.9 L662.5 2457.7 L669 2464.2 L677.3 2464.2 L692.1 2477.4 L698.6 2484 L700.3 2492.7 L715.1 2489.5 L726.6 2502.6 L738.1 2505.9 L749.6 2504.2 L756.2 2514.1 L764.4 2517.4 L775.9 2517.4 L775.9 2543.7 L790.7 2548.6 L797.3 2555.2 L810.4 2558.5 L817 2566.7 L818.6 2583.2 L826.8 2589.7 L843.3 2594.7 L853.2 2602.9 L863 2611.1 L867.9 2616" stroke="#ffff00" stroke-width="7.2" fill="none" stroke-linejoin="round" stroke-linecap="butt"/>
<path d="M207.7 2205.5 L207.7 2329.5" stroke="#00ff00" stroke-width="7.2" fill="none" stroke-linejoin="round" stroke-linecap="butt"/>
<path d="M235.6 2329.5 L248.8 2311.4 L248.8 2347.5" stroke="#00ff00" stroke-width="7.2" fill="none" stroke-linejoin="round" stroke-linecap="butt"/>
<path d="M247.1 2388.6 L248.1 2413.3 L253.7 2423.2 L261.9 2419.9 L265.2 2406.7 L271.8 2403.4 L286.6 2436.3 L311.2 2406.7 L319.5 2413.3 L334.2 2413.3 L340.8 2419.9 L340.8 2442.9 L354 2456 L367.1 2462.6 L395.1 2442.9 L403.3 2464.2 L416.4 2469.2 L442.7 2461 L470.7 2446.2 L474 2456 L488.8 2462.6 L505.2 2469.2 L521.6 2480.7 L534.8 2494.4 L538.1 2507.5 L564.4 2509.2 L577.5 2514.1 L580.8 2524 L597.3 2530.5 L605.5 2538.8 L608.8 2548.6 L615.3 2550.3 L640 2543.7 L649.3 2542.1 L655.9 2550.3 L675.6 2551.9 L692.1 2561.8 L711.8 2556.8 L720 2565.1 L734.8 2566.7 L744.7 2574.9 L752.9 2578.2 L756.2 2588.1 L764.4 2594.7 L779.2 2594.7 L784.1 2601.2 L810.4 2597.9 L833.4 2596.3 L844.9 2604.5 L844.9 2640.7 L856.4 2639 L863 2642.3 L872.9 2642.3 L872.9 2668.6 L889.3 2667.6" stroke="#00ff00" stroke-width="7.2" fill="none" stroke-linejoin="round" stroke-linecap="butt"/>
<path d="M202.7 2205.5 L248.8 2205.5 L255.3 2252.2 L257 2301.5 L257 2429.7 L264.5 2433 L264.5 2489.9 L263.6 2505.9 L271.8 2538.8 L276.7 2571.6 L283.3 2586.4 L289.9 2583.2 L296.4 2571.6 L298.1 2594.7 L306.3 2602.9 L312.9 2629.2 L339.2 2627.5 L340.8 2647.3 L350.7 2660.4 L360.5 2673.6 L362.2 2693.3 L368.8 2701.5 L370.4 2713 L386.8 2721.2 L390.1 2736 L400 2744.2 L413.2 2749.2 L418.1 2757.4 L439.5 2754.1 L449.3 2762.3 L457.5 2775.5 L465.8 2780.4 L483.8 2784.7 L505.2 2786 L538.1 2784.7" stroke="#0000ff" stroke-width="7.8" fill="none" stroke-linejoin="round" stroke-linecap="butt"/>
<path d="M189.6 2548.1 L191.2 2489.9 L192.9 2413.3" stroke="#d3cfc6" stroke-width="7.2" fill="none" stroke-linejoin="round" stroke-linecap="butt"/>
<path d="M212.6 2380.4 L234 2331.1 L237.3 2373.8 L247.1 2350.8 L248.1 2388.6 L255.3 2423.2 L268.5 2424.8 L280 2437.9 L288.2 2456 L301.4 2464.2 L319.5 2472.5 L321.1 2489.9 L322.7 2499.3 L326 2515.8 L354 2528.9 L360.5 2545.3 L362.2 2565.1 L368.8 2571.6 L368.8 2606.2 L390.1 2612.7 L413.2 2619.3 L439.5 2621.6 L452.6 2629.2 L455.9 2647.3 L462.5 2653.8 L464.1 2668.6 L475.6 2668.6 L501.9 2667 L503.6 2685.1 L508.5 2688.4 L521.6 2686.7 L529.9 2694.9 L531.5 2704.8 L554.5 2708.1 L584.1 2713 L620.3 2716.3 L640 2724.5 L655.9 2731.1 L672.3 2732.1 L680.5 2739.3" stroke="#d3cfc6" stroke-width="7.2" fill="none" stroke-linejoin="round" stroke-linecap="butt"/>
<path d="M183 2828 L186 2208" stroke="#ff00ff" stroke-width="7.2" fill="none" stroke-linejoin="round" stroke-linecap="butt"/>
<path d="M200.4 2205.5 L201.8 2327.8 L207.3 2331.1 L210 2383.7 L214.6 2385.3 L215.2 2414.9 L221.8 2414.9 L222.5 2489.9 L221.8 2538.8 L225.8 2520.7 L235.6 2520.7 L237.3 2548.6 L242.2 2537.1 L242.8 2593 L250.4 2581.5 L255.3 2578.2 L257 2612.7 L263.6 2604.5 L264.5 2647.3 L271.8 2658.8 L298.1 2639 L307.9 2647.3 L322.7 2630.8 L326 2629.2 L326 2647.3 L339.2 2650.5 L367.1 2639 L375.3 2647.3 L377 2665.3 L395.1 2663.7 L398.4 2678.5 L409.9 2683.4 L431.2 2678.5 L432.9 2690 L446 2698.2 L447.7 2706.4 L472.3 2699.9 L480.5 2706.4 L481.5 2719.6 L488.8 2722.9" stroke="#ff00ff" stroke-width="9.6" fill="none" stroke-linejoin="round" stroke-linecap="butt"/>
<path d="M200.1 2364 L196.8 2400.1 L198.1 2413.3 L199.5 2433 L199.5 2450 L199.5 2594.7" stroke="#00ffff" stroke-width="13.2" fill="none" stroke-linejoin="round" stroke-linecap="butt"/>
<path d="M204.4 2594.7 L207.7 2555.2 L207.7 2663.7 L212.6 2665.3 L220.8 2644 L222.5 2693.3 L227.4 2686.7 L229 2717.9 L245.5 2688.4 L252.1 2683.4 L257 2690 L273.4 2676.8 L281.6 2678.5 L289.9 2671.9 L291.5 2711.4 L301.4 2711.4 L311.2 2703.2 L312.9 2722.9 L322.7 2732.7 L331 2732.7 L339.2 2739.3 L340.8 2749.2 L354 2750.8 L386.8 2741 L390.1 2747.5 L406.6 2752.5 L439.5 2745.9 L472.3 2738.7 L488.8 2736 L495.3 2739.3 L521.6 2736 L551.2 2734.4 L552.9 2742.6 L567.7 2744.2 L587.4 2741 L597.3 2744.2 L620.3 2741.9 L640 2745.9 L646 2752.5 L659.2 2758.4 L695.3 2759 L705.2 2765 L744.7 2764 L757.8 2770.5 L784.1 2772.2 L797.3 2775.5 L817 2776.1 L830.1 2783.7 L853.2 2787 L882.7 2788 L902.5 2796.8 L935.3 2801.1 L941.9 2805.7 L971.5 2808.4 L978.1 2812.6 L999.5 2812.6" stroke="#00ffff" stroke-width="8.4" fill="none" stroke-linejoin="round" stroke-linecap="butt"/>
<text x="179.5" y="2894.7" font-size="47.8" text-anchor="middle" fill="#2c2c2c">0</text>
<text x="161.5" y="2849.8" font-size="47.8" text-anchor="end" fill="#2c2c2c">0</text>
<text x="353.4" y="2894.7" font-size="47.8" text-anchor="middle" fill="#2c2c2c">0.2</text>
<text x="161.5" y="2725" font-size="47.8" text-anchor="end" fill="#2c2c2c">0.2</text>
<text x="527.4" y="2894.7" font-size="47.8" text-anchor="middle" fill="#2c2c2c">0.4</text>
<text x="161.5" y="2600.1" font-size="47.8" text-anchor="end" fill="#2c2c2c">0.4</text>
<text x="701.3" y="2894.7" font-size="47.8" text-anchor="middle" fill="#2c2c2c">0.6</text>
<text x="161.5" y="2475.3" font-size="47.8" text-anchor="end" fill="#2c2c2c">0.6</text>
<text x="875.3" y="2894.7" font-size="47.8" text-anchor="middle" fill="#2c2c2c">0.8</text>
<text x="161.5" y="2350.5" font-size="47.8" text-anchor="end" fill="#2c2c2c">0.8</text>
<text x="1049.2" y="2894.7" font-size="47.8" text-anchor="middle" fill="#2c2c2c">1</text>
<text x="161.5" y="2225.7" font-size="47.8" text-anchor="end" fill="#2c2c2c">1</text>
<text x="614.4" y="2964.7" font-size="53.6" text-anchor="middle" fill="#2c2c2c">Recall</text>
<text transform="translate(73.2 2518.1) rotate(-90)" font-size="53.6" text-anchor="middle" fill="#2c2c2c">Precision</text>
<text x="614.4" y="2186.8" font-size="54.3" font-weight="bold" text-anchor="middle" fill="#000">Bridge</text>
</g>
<g>
<path d="M1529 2189 V2826.6 M1351.4 2699.1 H2239.5 M1706.6 2189 V2826.6 M1351.4 2571.6 H2239.5 M1884.3 2189 V2826.6 M1351.4 2444 H2239.5 M2061.9 2189 V2826.6 M1351.4 2316.5 H2239.5" stroke="#e1e1e1" stroke-width="5.6" fill="none"/>
<path d="M1529 2826.6 v-11 M1529 2189 v11 M1351.4 2699.1 h11 M2239.5 2699.1 h-11 M1706.6 2826.6 v-11 M1706.6 2189 v11 M1351.4 2571.6 h11 M2239.5 2571.6 h-11 M1884.3 2826.6 v-11 M1884.3 2189 v11 M1351.4 2444 h11 M2239.5 2444 h-11 M2061.9 2826.6 v-11 M2061.9 2189 v11 M1351.4 2316.5 h11 M2239.5 2316.5 h-11" stroke="#333333" stroke-width="5" fill="none"/>
<rect x="1351.4" y="2189" width="888.1" height="637.6" fill="none" stroke="#333333" stroke-width="5.5"/>
<path d="M1749.2 2206.5 L1810 2207.9 L1839.3 2210.8 L1872.2 2214.1 L1911.6 2219 L1947.8 2217.4 L1977.4 2217.4 L2003.7 2227.3 L2039.9 2230.5 L2056.3 2238.8 L2071.1 2238.1 L2082.6 2247 L2099 2248.6 L2118.8 2258.5 L2128.6 2273.3 L2138.5 2286.4" stroke="#ff0000" stroke-width="5" fill="none" stroke-linejoin="round" stroke-linecap="butt"/>
<path d="M1749.2 2209.2 L1810 2210.5 L1839.3 2211.2 L1905.1 2214.1 L1954.4 2219" stroke="#ff9a80" stroke-width="4" fill="none" stroke-linejoin="round" stroke-linecap="butt"/>
<path d="M1749.2 2211.8 L1810 2212.5 L1839.3 2209.8 L1905.1 2210.8 L1954.4 2217.4 L2000.4 2220.7 L2039.9 2220.7 L2069.5 2225 L2102.3 2227.3 L2105.6 2240.4 L2125.3 2250.3 L2131.9 2266.7 L2141.8 2284.8" stroke="#e6e600" stroke-width="5.2" fill="none" stroke-linejoin="round" stroke-linecap="butt"/>
<path d="M1709.7 2245.3 L1790.3 2265.1 L1790 2271.6 L1822.9 2273.3 L1849.2 2278.2 L1875.5 2276.6 L1888.6 2283.2 L1921.5 2281.5 L1934.7 2288.1 L1951.1 2286.4 L1965.9 2301.2 L1977.4 2302.9 L1987.3 2314.4 L2000.4 2317.7 L2020.1 2321 L2039.9 2319.3 L2049.7 2329.2 L2069.5 2332.5 L2099 2339 L2110.5 2344 L2113.8 2360.4 L2125.3 2363.7 L2130.3 2376.8 L2145.1 2381.8" stroke="#00e000" stroke-width="6.3" fill="none" stroke-linejoin="round" stroke-linecap="butt"/>
<path d="M1604.5 2217.4 L1625.9 2214.1 L1658.8 2205.9 L1678.5 2201 L1685.1 2209.2 L1694.9 2214.1 L1701.5 2207.5 L1711.4 2214.1 L1726.2 2209.2 L1732.7 2235.5 L1747.5 2237.1 L1754.1 2224 L1760.7 2224 L1767.3 2235.5 L1775.5 2240.4 L1778.8 2251.9 L1790.3 2256.8 L1793.6 2265.1 L1803.4 2263.4 L1810 2255.2 L1816.3 2261.8 L1826.2 2256.8 L1839.3 2250.3 L1852.5 2255.2 L1860.7 2263.4 L1870.5 2250.3 L1883.7 2251.9 L1888.6 2261.8 L1908.4 2265.1 L1914.9 2274.9 L1928.1 2283.2 L1936.3 2274.9 L1949.5 2274.9 L1959.3 2281.5 L1975.8 2284.8 L1979 2307.8 L1993.8 2304.5 L2000.4 2321 L2007 2325.9 L2008.6 2353.8 L2016.8 2386.7 L2021.8 2385.1 L2023.4 2403.2 L2030 2404.8 L2031.6 2419.6 L2036.6 2422.9" stroke="#f5b8b8" stroke-width="7.2" fill="none" stroke-linejoin="round" stroke-linecap="butt"/>
<path d="M1423.7 2189.5 L1543.7 2189.5 L1553.6 2201 L1583.2 2201 L1594.7 2220.7 L1625.9 2217.4 L1629.2 2227.3 L1668.6 2222.3 L1675.2 2243.7 L1703.2 2238.8 L1706.4 2253.6 L1721.2 2265.1 L1734.4 2270 L1757.4 2272.3 L1790.3 2271.6 L1810 2269 L1832.7 2266.7 L1849.2 2268.4 L1855.8 2291.4 L1868.9 2293 L1891.9 2289.7 L1905.1 2297.9 L1918.2 2302.9 L1919.9 2316 L1926.4 2321 L1941.2 2321 L1951.1 2340.7 L1951.1 2370.3 L1956 2383.4 L1957.7 2394.9 L1964.2 2401.5 L1970.8 2419.6 L1977.4 2431.1 L1979 2441 L1993.8 2447.5 L2007 2467.3 L2003.7 2458.1 L2005.3 2467.9 L2025.1 2477.8 L2026.7 2486 L2034.9 2486 L2034.9 2518.9 L2039.2 2522.2 L2039.2 2584.7" stroke="#ffff00" stroke-width="7.2" fill="none" stroke-linejoin="round" stroke-linecap="butt"/>
<path d="M1358.8 2190 L1370 2190 L1368.8 2308 L1364.6 2308Z" fill="#00ff00" stroke="none"/>
<path d="M1377.7 2288.1 L1381 2327.5 L1392.5 2297.9 L1399 2324.2 L1428.6 2278.2 L1436.8 2276.6 L1440.1 2294.7 L1450 2281.5 L1456.6 2276.6 L1477.9 2265.1 L1482.9 2293 L1514.1 2276.6 L1535.5 2279.9 L1542.1 2297.9 L1553.6 2293 L1579.9 2299.6 L1612.7 2288.1 L1625.9 2299.6 L1637.4 2294.7 L1648.9 2307.8 L1660.4 2335.8 L1670.3 2334.1 L1678.5 2340.7 L1696.6 2339 L1716.3 2360.4 L1722.9 2380.1 L1741 2386.7 L1767.3 2386.7 L1768.9 2403.2 L1790.3 2417.9 L1803.4 2424.5 L1805.1 2441 L1810 2455.8 L1811.4 2454.8 L1813 2464.7 L1822.9 2471.2 L1827.8 2489.3 L1834.4 2502.5 L1834.4 2573.2 L1839.3 2578.1 L1841 2587.9 L1847.5 2589.6 L1847.5 2624.8" stroke="#00ff00" stroke-width="7.2" fill="none" stroke-linejoin="round" stroke-linecap="butt"/>
<path d="M1354.7 2189.5 L1420.4 2189.5 L1421.4 2224 L1441.8 2215.8 L1468.1 2209.8 L1494.4 2206.5 L1528.9 2202.6 L1532.2 2217.4 L1543.7 2220.7 L1556.8 2228.9 L1560.1 2238.8 L1576.6 2247 L1581.5 2263.4 L1596.3 2266.7 L1619.3 2263.4 L1622.6 2270 L1634.1 2268.4 L1637.4 2278.2 L1653.8 2294.7 L1655.5 2311.1 L1662.1 2317.7 L1663.7 2329.2 L1668.6 2337.4 L1685.1 2339 L1688.4 2353.8 L1701.5 2373.6 L1703.2 2383.4 L1709.7 2391.6 L1727.8 2396.6 L1741 2404.8 L1745.9 2429.5 L1754.1 2437.7 L1770.5 2442.6 L1778.8 2454.1 L1782.1 2471.2 L1793.6 2472.9 L1803.4 2484.4 L1810 2489.3 L1813 2502.5 L1821.2 2517.3 L1821.2 2594.5" stroke="#0000ff" stroke-width="7.8" fill="none" stroke-linejoin="round" stroke-linecap="butt"/>
<path d="M1351.4 2772.1 L1353 2617.5 L1357.9 2670.1 L1359.6 2699.7 L1364.5 2709.6 L1376 2647.1 L1377.7 2709.6 L1381 2719.5 L1381 2750.7 L1390.8 2745.8 L1400.7 2737.5 L1408.9 2744.1 L1417.1 2745.8 L1422.1 2752.3 L1431.9 2748.4 L1441.8 2749 L1459.9 2739.8 L1468.1 2747.4 L1477.9 2750.7 L1494.4 2750.7 L1505.9 2762.2 L1527.3 2762.8 L1547 2762.2 L1576.6 2768.8 L1602.9 2774.7 L1625.9 2776 L1645.6 2778.6 L1675.2 2778 L1701.5 2782.6 L1714.7 2781.9" stroke="#d3cfc6" stroke-width="7.2" fill="none" stroke-linejoin="round" stroke-linecap="butt"/>
<path d="M1357 2189.5 L1357 2469.9 L1357 2505.8" stroke="#ff00ff" stroke-width="8.2" fill="none" stroke-linejoin="round" stroke-linecap="butt"/>
<path d="M1357 2505.8 L1358.9 2380.1 L1361.2 2347.3 L1366.2 2314.4 L1372.7 2284.8 L1382.6 2261.8 L1395.8 2242.1 L1408.9 2230.5 L1420.4 2225.6 L1425.3 2253.6 L1434.5 2250.3 L1435.9 2274.9 L1443.4 2266.7 L1451.6 2263.4 L1456.6 2294.7 L1461.5 2311.1 L1481.2 2294.7 L1484.5 2307.8 L1504.2 2294.7 L1505.9 2314.4 L1510.8 2327.5 L1511.5 2347.3 L1515.8 2350.5 L1515.8 2365.3 L1525.6 2371.9 L1528.9 2403.2 L1533.8 2409.7 L1535.5 2422.9 L1542.1 2426.2 L1545.3 2436 L1553.6 2442.6 L1560.1 2454.1 L1570 2459 L1586.4 2467.3 L1606.2 2457.4 L1624.2 2454.1 L1629.2 2467.9 L1634.1 2472.9 L1635.1 2489.3 L1663.7 2486 L1667 2500.8 L1673.6 2512.3 L1685.1 2512.3 L1690 2518.9 L1711.4 2520.5 L1719.6 2528.8 L1724.5 2543.6 L1739.3 2546.8 L1744.2 2558.4 L1755.8 2564.9 L1764 2581.4 L1773.8 2586.3 L1782.1 2587.9 L1787 2604.4 L1791.9 2615.9 L1803.4 2622.5 L1810 2624.1 L1824.5 2622.5 L1826.2 2640.5 L1834.4 2650.4 L1836 2658.6 L1847.5 2658.6 L1848.5 2678.4 L1854.1 2683.3 L1859 2683.9" stroke="#ff00ff" stroke-width="7.2" fill="none" stroke-linejoin="round" stroke-linecap="butt"/>
<path d="M1349.7 2824.7 L1353 2768.8 L1359.6 2755.6 L1369.5 2735.9 L1379.3 2737.5 L1387.5 2734.2 L1404 2726 L1415.5 2712.9 L1428.6 2707.9 L1438.5 2712.9 L1450 2717.8 L1461.5 2712.9 L1484.5 2708.9 L1494.4 2711.2 L1504.2 2707.9 L1509.2 2722.7 L1520.7 2722.1 L1527.3 2727.7 L1547 2730 L1560.1 2734.2 L1579.9 2733.3 L1599.6 2729.3 L1625.9 2731.9 L1642.3 2731 L1650.5 2737.5 L1681.8 2735.9 L1690 2747.4 L1721.2 2745.8 L1737.7 2754 L1780.4 2756.3 L1796.8 2761.5 L1810 2766.1 L1822.9 2772.1 L1849.2 2776 L1878.8 2775.3 L1888.6 2778.6 L1934.7 2778.6 L1951.1 2781.9 L1954.4 2786.8 L1987.3 2789.2 L2000.4 2794.4 L2020.1 2797.7 L2033.3 2798.4" stroke="#00ffff" stroke-width="8.4" fill="none" stroke-linejoin="round" stroke-linecap="butt"/>
<text x="1351.4" y="2892.6" font-size="48.8" text-anchor="middle" fill="#2c2c2c">0</text>
<text x="1333" y="2846.7" font-size="48.8" text-anchor="end" fill="#2c2c2c">0</text>
<text x="1529" y="2892.6" font-size="48.8" text-anchor="middle" fill="#2c2c2c">0.2</text>
<text x="1333" y="2719.2" font-size="48.8" text-anchor="end" fill="#2c2c2c">0.2</text>
<text x="1706.6" y="2892.6" font-size="48.8" text-anchor="middle" fill="#2c2c2c">0.4</text>
<text x="1333" y="2591.7" font-size="48.8" text-anchor="end" fill="#2c2c2c">0.4</text>
<text x="1884.3" y="2892.6" font-size="48.8" text-anchor="middle" fill="#2c2c2c">0.6</text>
<text x="1333" y="2464.1" font-size="48.8" text-anchor="end" fill="#2c2c2c">0.6</text>
<text x="2061.9" y="2892.6" font-size="48.8" text-anchor="middle" fill="#2c2c2c">0.8</text>
<text x="1333" y="2336.6" font-size="48.8" text-anchor="end" fill="#2c2c2c">0.8</text>
<text x="2239.5" y="2892.6" font-size="48.8" text-anchor="middle" fill="#2c2c2c">1</text>
<text x="1333" y="2209.1" font-size="48.8" text-anchor="end" fill="#2c2c2c">1</text>
<text x="1795.5" y="2964" font-size="54.8" text-anchor="middle" fill="#2c2c2c">Recall</text>
<text transform="translate(1242.9 2507.8) rotate(-90)" font-size="54.8" text-anchor="middle" fill="#2c2c2c">Precision</text>
<text x="1795.5" y="2169.4" font-size="55.5" font-weight="bold" text-anchor="middle" fill="#000">Vehicle</text>
</g>
<path d="M673 3143 H745" stroke="#0000ff" stroke-width="3" opacity="0.8"/>
<path d="M805 3143 H816" stroke="#0000ff" stroke-width="3" opacity="0.8"/>
<path d="M876 3143 H892" stroke="#e6e600" stroke-width="3" opacity="0.8"/>
<path d="M997 3143 H1069" stroke="#ff0000" stroke-width="3" opacity="0.8"/>
<path d="M1076 3143 H1161" stroke="#e6e600" stroke-width="3" opacity="0.8"/>
<path d="M1168 3143 H1361" stroke="#ff0000" stroke-width="3" opacity="0.8"/>
<rect x="641.8" y="3146.3" width="983" height="776.7" fill="#fff" stroke="#2e2e2e" stroke-width="6"/>
<path d="M661.8 3188.1 H760.5" stroke="#ff0000" stroke-width="8.5"/>
<text x="771.8" y="3207.7" font-size="53.1" fill="#000">R-P-Faster R-CNN (twice) (VGG16)</text>
<path d="M661.8 3256.7 H760.5" stroke="#ff9a80" stroke-width="8.5"/>
<text x="771.8" y="3276.3" font-size="53.1" fill="#000">R-P-Faster R-CNN (once) (VGG16)</text>
<path d="M661.8 3325.3 H760.5" stroke="#e6e600" stroke-width="8.5"/>
<text x="771.8" y="3344.9" font-size="53.1" fill="#000">R-P-Faster R-CNN (ZF)</text>
<path d="M661.8 3406.6 H760.5" stroke="#00e000" stroke-width="8.5"/>
<text x="771.8" y="3415.2" font-size="52.4" fill="#000">RICNN<tspan class="sub" dx="3" dy="26">w</tspan><tspan dx="1" dy="-26">ith</tspan><tspan class="sub" dx="3" dy="26">f</tspan><tspan dx="1" dy="-26">inetuning</tspan></text>
<path d="M661.8 3499.3 H760.5" stroke="#f5b8b8" stroke-width="8.5"/>
<text x="771.8" y="3507.9" font-size="52.4" fill="#000">RICNN<tspan class="sub" dx="3" dy="26">w</tspan><tspan dx="1" dy="-26">ithout</tspan><tspan class="sub" dx="3" dy="26">f</tspan><tspan dx="1" dy="-26">inetuning</tspan></text>
<path d="M661.8 3592 H760.5" stroke="#ffff00" stroke-width="8.5"/>
<text x="771.8" y="3600.6" font-size="52.4" fill="#000">transfferred<tspan class="sub" dx="3" dy="26">C</tspan><tspan dx="1" dy="-26">NN</tspan></text>
<path d="M661.8 3674.1 H760.5" stroke="#00ff00" stroke-width="8.5"/>
<text x="771.8" y="3693.7" font-size="53.1" fill="#000">COPD</text>
<path d="M661.8 3744.2 H760.5" stroke="#0000ff" stroke-width="8.5"/>
<text x="771.8" y="3763.8" font-size="53.1" fill="#000">FDDL</text>
<path d="M661.8 3813.5 H760.5" stroke="#d3cfc6" stroke-width="8.5"/>
<text x="771.8" y="3833.1" font-size="53.1" fill="#000">SSCBOW</text>
<path d="M661.8 3883.5 H760.5" stroke="#ff00ff" stroke-width="8.5"/>
<text x="771.8" y="3903.1" font-size="53.1" fill="#000">BOW</text>
</svg>
<svg id="caps" width="2297" height="3966" viewBox="0 0 2297 3966">
<text x="300" y="1001" textLength="500.4" lengthAdjust="spacingAndGlyphs" font-family="'Liberation Serif', 'Times New Roman', serif" font-size="72" fill="#000" xml:space="preserve">(<tspan font-weight="bold">e</tspan>) tennis court</text>
<text x="1411" y="1001" textLength="627.6" lengthAdjust="spacingAndGlyphs" font-family="'Liberation Serif', 'Times New Roman', serif" font-size="72" fill="#000" xml:space="preserve">(<tspan font-weight="bold">f</tspan>) basketball court</text>
<text x="195.2" y="2050.4" textLength="708.6" lengthAdjust="spacingAndGlyphs" font-family="'Liberation Serif', 'Times New Roman', serif" font-size="72" fill="#000" xml:space="preserve">(<tspan font-weight="bold">g</tspan>) ground track field</text>
<text x="1555.5" y="2050.4" textLength="336.5" lengthAdjust="spacingAndGlyphs" font-family="'Liberation Serif', 'Times New Roman', serif" font-size="72" fill="#000" xml:space="preserve">(<tspan font-weight="bold">h</tspan>) harbor</text>
<text x="395.6" y="3100.4" textLength="311.9" lengthAdjust="spacingAndGlyphs" font-family="'Liberation Serif', 'Times New Roman', serif" font-size="72" fill="#000" xml:space="preserve">(<tspan font-weight="bold">i</tspan>) bridge</text>
<text x="1559.3" y="3100.4" textLength="329.4" lengthAdjust="spacingAndGlyphs" font-family="'Liberation Serif', 'Times New Roman', serif" font-size="72" fill="#000" xml:space="preserve">(<tspan font-weight="bold">j</tspan>) vehicle</text>
</svg>
</body>
</html>
